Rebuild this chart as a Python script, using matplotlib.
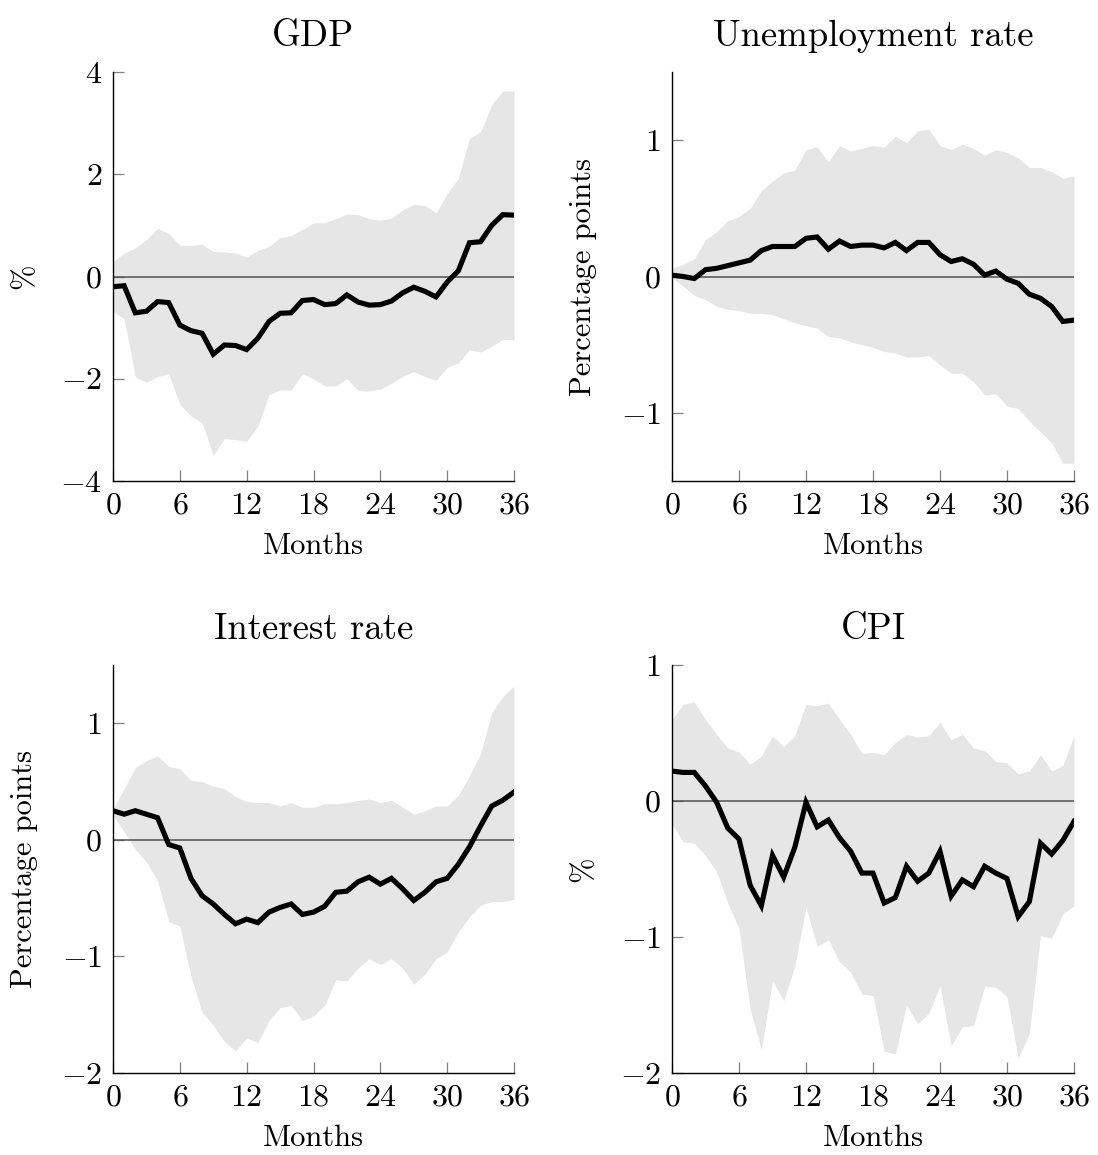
import numpy as np
import matplotlib
matplotlib.use("Agg")
import matplotlib.pyplot as plt

plt.rcParams["font.family"] = "cmr10"
plt.rcParams["mathtext.fontset"] = "cm"
plt.rcParams["axes.formatter.use_mathtext"] = True

months = np.arange(37)
month_ticks = [0, 6, 12, 18, 24, 30, 36]

# Impulse responses (median) with lower / upper credible bands
gdp_mid = [-0.20, -0.18, -0.71, -0.68, -0.49, -0.51, -0.95, -1.06, -1.11, -1.52,
           -1.34, -1.35, -1.43, -1.21, -0.88, -0.72, -0.71, -0.47, -0.45, -0.55,
           -0.53, -0.36, -0.50, -0.56, -0.55, -0.48, -0.32, -0.21, -0.29, -0.40,
           -0.11, 0.11, 0.66, 0.68, 1.00, 1.21, 1.20]
gdp_hi = [0.29, 0.46, 0.56, 0.72, 0.94, 0.84, 0.61, 0.61, 0.63, 0.49,
          0.48, 0.46, 0.38, 0.51, 0.59, 0.76, 0.80, 0.92, 1.05, 1.05,
          1.13, 1.22, 1.21, 1.13, 1.10, 1.14, 1.30, 1.41, 1.39, 1.24,
          1.62, 1.92, 2.70, 2.83, 3.36, 3.63, 3.63]
gdp_lo = [-0.69, -0.82, -1.96, -2.07, -1.96, -1.90, -2.50, -2.73, -2.86, -3.50,
          -3.17, -3.19, -3.22, -2.93, -2.31, -2.22, -2.22, -1.90, -2.00, -2.14,
          -2.14, -2.00, -2.23, -2.24, -2.20, -2.09, -1.95, -1.86, -1.96, -2.03,
          -1.78, -1.69, -1.43, -1.48, -1.36, -1.23, -1.24]

unemp_mid = [0.01, 0.00, -0.015, 0.05, 0.06, 0.08, 0.10, 0.12, 0.19, 0.22,
             0.22, 0.22, 0.28, 0.29, 0.20, 0.26, 0.22, 0.23, 0.23, 0.21,
             0.25, 0.19, 0.25, 0.25, 0.16, 0.11, 0.13, 0.09, 0.01, 0.04,
             -0.02, -0.05, -0.13, -0.16, -0.22, -0.33, -0.32]
unemp_hi = [0.06, 0.09, 0.13, 0.27, 0.33, 0.41, 0.44, 0.50, 0.63, 0.70,
            0.76, 0.78, 0.93, 0.95, 0.84, 0.96, 0.92, 0.94, 0.96, 0.95,
            1.03, 0.98, 1.07, 1.08, 0.96, 0.93, 0.97, 0.94, 0.89, 0.93,
            0.91, 0.87, 0.80, 0.80, 0.77, 0.72, 0.74]
unemp_lo = [-0.01, -0.07, -0.14, -0.17, -0.22, -0.24, -0.25, -0.27, -0.27, -0.28,
            -0.31, -0.34, -0.36, -0.38, -0.44, -0.45, -0.48, -0.50, -0.52, -0.55,
            -0.56, -0.59, -0.59, -0.58, -0.65, -0.71, -0.71, -0.77, -0.87, -0.86,
            -0.95, -0.97, -1.06, -1.14, -1.22, -1.37, -1.37]

rate_mid = [0.25, 0.22, 0.25, 0.22, 0.19, -0.04, -0.07, -0.33, -0.48, -0.55,
            -0.64, -0.72, -0.68, -0.71, -0.62, -0.58, -0.55, -0.64, -0.62, -0.57,
            -0.45, -0.44, -0.36, -0.32, -0.38, -0.33, -0.42, -0.52, -0.45, -0.36,
            -0.33, -0.21, -0.06, 0.12, 0.29, 0.34, 0.41]
rate_hi = [0.26, 0.44, 0.62, 0.68, 0.72, 0.63, 0.61, 0.51, 0.50, 0.46,
           0.44, 0.37, 0.33, 0.32, 0.32, 0.29, 0.32, 0.28, 0.28, 0.31,
           0.31, 0.32, 0.34, 0.35, 0.32, 0.34, 0.28, 0.22, 0.25, 0.29,
           0.29, 0.38, 0.55, 0.74, 1.09, 1.23, 1.32]
rate_lo = [0.21, 0.07, -0.08, -0.19, -0.35, -0.70, -0.74, -1.17, -1.48, -1.59,
           -1.73, -1.81, -1.70, -1.74, -1.55, -1.44, -1.42, -1.55, -1.51, -1.42,
           -1.20, -1.21, -1.10, -1.02, -1.07, -1.02, -1.10, -1.24, -1.15, -1.02,
           -0.96, -0.79, -0.66, -0.56, -0.53, -0.53, -0.51]

cpi_mid = [0.22, 0.21, 0.21, 0.11, -0.01, -0.20, -0.28, -0.62, -0.77, -0.40,
           -0.56, -0.34, -0.01, -0.19, -0.14, -0.27, -0.37, -0.53, -0.53, -0.75,
           -0.71, -0.48, -0.59, -0.53, -0.37, -0.70, -0.58, -0.63, -0.48, -0.53,
           -0.57, -0.85, -0.74, -0.31, -0.39, -0.29, -0.15]
cpi_hi = [0.60, 0.71, 0.73, 0.60, 0.49, 0.39, 0.36, 0.27, 0.33, 0.48,
          0.40, 0.48, 0.71, 0.70, 0.72, 0.60, 0.49, 0.35, 0.36, 0.34,
          0.43, 0.49, 0.47, 0.48, 0.58, 0.45, 0.49, 0.39, 0.37, 0.29,
          0.28, 0.20, 0.22, 0.34, 0.22, 0.26, 0.48]
cpi_lo = [-0.17, -0.30, -0.31, -0.40, -0.52, -0.75, -0.94, -1.53, -1.83, -1.32,
          -1.47, -1.21, -0.78, -1.07, -1.02, -1.18, -1.26, -1.42, -1.43, -1.84,
          -1.86, -1.50, -1.64, -1.56, -1.36, -1.80, -1.66, -1.65, -1.36, -1.37,
          -1.44, -1.89, -1.71, -0.99, -1.01, -0.83, -0.77]

titles = ["GDP", "Unemployment rate", "Interest rate", "CPI"]
ylabels = ["%", "Percentage points", "Percentage points", "%"]
yticks = [[-4, -2, 0, 2, 4], [-1, 0, 1], [-2, -1, 0, 1], [-2, -1, 0, 1]]
ylims = [(-4, 4), (-1.5, 1.5), (-2, 1.5), (-2, 1)]

series = [
    (gdp_mid, gdp_lo, gdp_hi),
    (unemp_mid, unemp_lo, unemp_hi),
    (rate_mid, rate_lo, rate_hi),
    (cpi_mid, cpi_lo, cpi_hi),
]

W, H = 1098, 1155
fig = plt.figure(figsize=(W / 100, H / 100), dpi=100)

# axes boxes in pixels: left, top, right, bottom
boxes = [(113, 72, 514, 481), (672, 72, 1074, 481),
         (113, 665, 514, 1073), (672, 665, 1074, 1073)]


def tick_text(v):
    return r"$%d$" % v if v >= 0 else r"$-%d$" % (-v)


for i, (l, t, r, b) in enumerate(boxes):
    ax = fig.add_axes([l / W, 1 - b / H, (r - l) / W, (b - t) / H])
    mid, lo, hi = series[i]
    ax.fill_between(months, lo, hi, color="#e6e6e6", lw=0, zorder=1)
    ax.axhline(0, color="#505050", lw=1.1, zorder=2)
    ax.plot(months, mid, color="black", lw=3.7, solid_joinstyle="miter",
            zorder=3)

    ax.set_xlim(0, 36)
    ax.set_ylim(*ylims[i])
    ax.set_xticks(month_ticks)
    ax.set_xticklabels([tick_text(m) for m in month_ticks])
    ax.set_yticks(yticks[i])
    ax.set_yticklabels([tick_text(v) for v in yticks[i]])

    for side in ("top", "right"):
        ax.spines[side].set_visible(False)
    for side in ("left", "bottom"):
        ax.spines[side].set_linewidth(1.0)
        ax.spines[side].set_color("black")
        ax.spines[side].set_zorder(4)

    ax.tick_params(direction="in", length=8, width=0.9, color="#808080",
                   labelsize=23, pad=8)

    ax.set_title(titles[i], fontsize=26.5, y=1.063, pad=0)
    ax.set_xlabel("Months", fontsize=22)
    ax.xaxis.set_label_coords(0.5, -0.127)
    ax.set_ylabel(ylabels[i], fontsize=22)
    ax.yaxis.set_label_coords(-0.22, 0.5)
    ax.yaxis.label.set_va("center")

fig.savefig("out.png", dpi=100, facecolor="white")
